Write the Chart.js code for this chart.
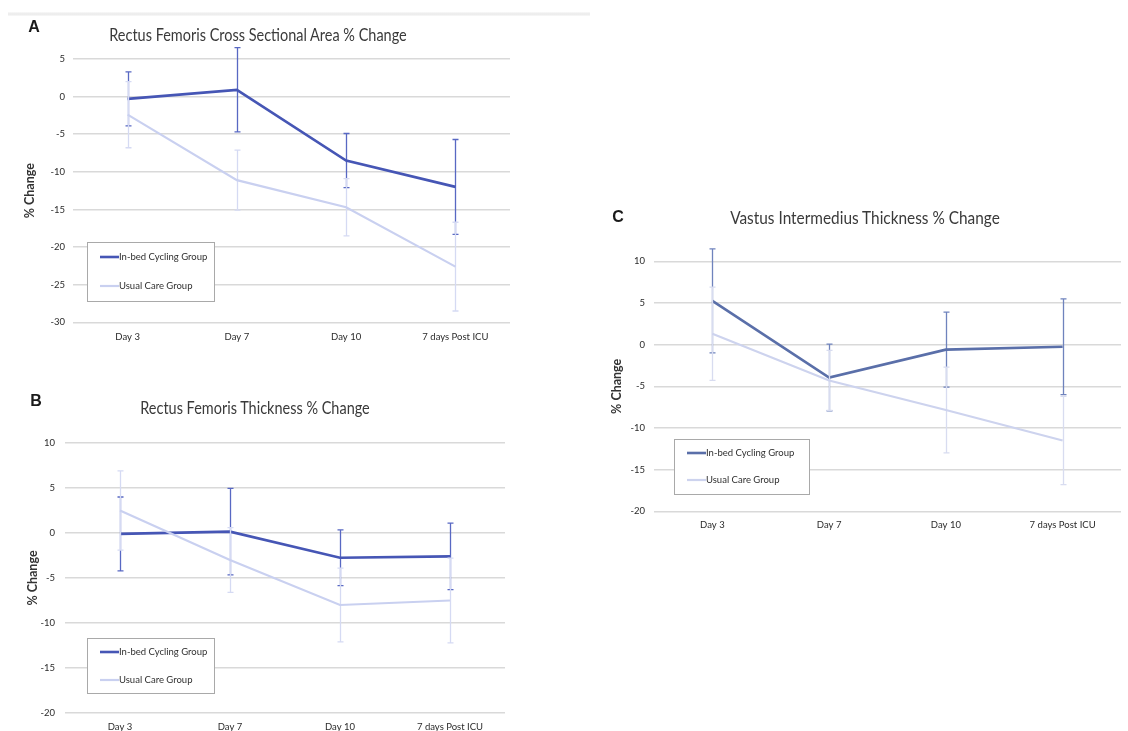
<!DOCTYPE html>
<html>
<head>
<meta charset="utf-8">
<script src="https://cdn.jsdelivr.net/npm/chart.js@4.4.1/dist/chart.umd.min.js"></script>
<style>
  html, body { margin: 0; padding: 0; background: #fff; }
  body { position: relative; width: 1128px; height: 731px; overflow: hidden; font-family: Lato, "Open Sans", sans-serif; }
  canvas { position: absolute; }
  .letter { position: absolute; font: bold 16px "Liberation Sans", Arial, sans-serif; color: #1a1a1a; transform: translate(-50%, -50%); }
  .title { position: absolute; white-space: nowrap; font: 17.5px Lato, sans-serif; color: #3a3a3a; }
  .rule { position: absolute; left: 8px; top: 12px; width: 582px; height: 4px; background: linear-gradient(#f9f9f9, #eaeaea, #f9f9f9); }
</style>
</head>
<body>
<div class="rule"></div>
<canvas id="chartA"></canvas>
<canvas id="chartB"></canvas>
<canvas id="chartC"></canvas>
<script>
// ---- data ----
const categories = ['Day 3', 'Day 7', 'Day 10', '7 days Post ICU'];
const seriesNames = ['In-bed Cycling Group', 'Usual Care Group'];

// A: rectus femoris cross sectional area, % change (mean and error)
const rfCsaCycling = [-0.3, 0.9, -8.5, -12.0];
const rfCsaCyclingErr = [3.6, 5.6, 3.6, 6.3];
const rfCsaUsual = [-2.4, -11.1, -14.7, -22.6];
const rfCsaUsualErr = [4.4, 4.0, 3.8, 5.9];

// B: rectus femoris thickness, % change
const rfThkCycling = [-0.1, 0.15, -2.75, -2.6];
const rfThkCyclingErr = [4.1, 4.8, 3.1, 3.7];
const rfThkUsual = [2.5, -3.0, -8.0, -7.5];
const rfThkUsualErr = [4.4, 3.6, 4.1, 4.7];

// C: vastus intermedius thickness, % change
const viThkCycling = [5.25, -3.95, -0.6, -0.25];
const viThkCyclingErr = [6.25, 4.0, 4.5, 5.75];
const viThkUsual = [1.3, -4.3, -7.85, -11.5];
const viThkUsualErr = [5.6, 3.6, 5.15, 5.3];

// y tick labels
const yTicksA = [5, 0, -5, -10, -15, -20, -25, -30];
const yTicksB = [10, 5, 0, -5, -10, -15, -20];
const yTicksC = [10, 5, 0, -5, -10, -15, -20];

const panelTitles = {
  A: 'Rectus Femoris Cross Sectional Area % Change',
  B: 'Rectus Femoris Thickness % Change',
  C: 'Vastus Intermedius Thickness % Change'
};
const yAxisTitle = '% Change';

// ---- layout (page pixels) ----
const panels = [
  {
    key: 'A', canvasId: 'chartA',
    canvas: { x: 0, y: 0, w: 590, h: 360 },
    plot: { l: 73, t: 59, r: 510, b: 322.3 },
    axisLeft: 18.8, yPad: 8, xPad: 9.3, xAxisH: 25,
    letter: { x: 34, y: 27 }, title: { cx: 258, cy: 34, w: 298 },
    legend: { x: 87, y: 242, w: 127, h: 59, row1: 15, row2: 44 },
    series: [rfCsaCycling, rfCsaUsual], errors: [rfCsaCyclingErr, rfCsaUsualErr], ticks: yTicksA,
    colors: { dark: '#4656b5', darkErr: '#5868c3', light: '#c9d0f0', lightErr: '#d5daf3' }
  },
  {
    key: 'B', canvasId: 'chartB',
    canvas: { x: 0, y: 370, w: 590, h: 380 },
    plot: { l: 65, t: 443, r: 505, b: 713 },
    axisLeft: 21.8, yPad: 10, xPad: 8.6, xAxisH: 25,
    letter: { x: 36, y: 401 }, title: { cx: 255, cy: 407, w: 230 },
    legend: { x: 87, y: 638, w: 127, h: 55, row1: 14, row2: 42 },
    series: [rfThkCycling, rfThkUsual], errors: [rfThkCyclingErr, rfThkUsualErr], ticks: yTicksB,
    colors: { dark: '#4656b5', darkErr: '#5868c3', light: '#c9d0f0', lightErr: '#d5daf3' }
  },
  {
    key: 'C', canvasId: 'chartC',
    canvas: { x: 590, y: 190, w: 538, h: 360 },
    plot: { l: 654, t: 261.3, r: 1121, b: 511.3 },
    axisLeft: 605.5, yPad: 9, xPad: 7.6, xAxisH: 25,
    letter: { x: 618, y: 217 }, title: { cx: 865, cy: 217, w: 270 },
    legend: { x: 674, y: 439, w: 135, h: 55, row1: 14, row2: 41 },
    series: [viThkCycling, viThkUsual], errors: [viThkCyclingErr, viThkUsualErr], ticks: yTicksC,
    colors: { dark: '#5a6fa9', darkErr: '#6f83bd', light: '#cdd3ee', lightErr: '#d8dcf0' }
  }
];

// vertical error bars with caps, drawn just before each series line
const errorBars = {
  id: 'errorBars',
  beforeDatasetDraw(chart, args) {
    const ds = chart.data.datasets[args.index];
    if (!ds.errors) return;
    const y = chart.scales.y;
    const ctx = chart.ctx;
    ctx.save();
    ctx.strokeStyle = ds.errorColor;
    ctx.lineWidth = 1.3;
    args.meta.data.forEach((pt, i) => {
      const v = ds.data[i], e = ds.errors[i];
      const yt = y.getPixelForValue(v + e);
      const yb = y.getPixelForValue(v - e);
      const x = Math.round(pt.x) + 0.5;
      ctx.beginPath();
      ctx.moveTo(x, yt); ctx.lineTo(x, yb);
      ctx.moveTo(x - 3, yt); ctx.lineTo(x + 3, yt);
      ctx.moveTo(x - 3, yb); ctx.lineTo(x + 3, yb);
      ctx.stroke();
    });
    ctx.restore();
  }
};

// boxed legend inside the plot area
const boxLegend = {
  id: 'boxLegend',
  afterDraw(chart, args, o) {
    if (!o || o.w === undefined) return;
    const ctx = chart.ctx;
    ctx.save();
    ctx.fillStyle = '#ffffff';
    ctx.fillRect(o.x, o.y, o.w, o.h);
    ctx.strokeStyle = '#a9a9a9';
    ctx.lineWidth = 1;
    ctx.strokeRect(Math.round(o.x) + 0.5, Math.round(o.y) + 0.5, o.w, o.h);
    const rows = [o.row1, o.row2];
    chart.data.datasets.forEach((ds, i) => {
      const yy = o.y + rows[i];
      ctx.strokeStyle = ds.borderColor;
      ctx.lineWidth = ds.borderWidth;
      ctx.beginPath();
      ctx.moveTo(o.x + 13, yy);
      ctx.lineTo(o.x + 32, yy);
      ctx.stroke();
      ctx.fillStyle = '#303030';
      ctx.font = '9.5px Lato, sans-serif';
      ctx.textBaseline = 'middle';
      ctx.textAlign = 'left';
      ctx.fillText(ds.label, o.x + 32, yy);
    });
    ctx.restore();
  }
};

function addText(cls, text, css) {
  const d = document.createElement('div');
  d.className = cls;
  d.textContent = text;
  Object.assign(d.style, css);
  document.body.appendChild(d);
  return d;
}

const measureCtx = document.createElement('canvas').getContext('2d');

panels.forEach(p => {
  // panel letter and title
  addText('letter', p.key, { left: p.letter.x + 'px', top: p.letter.y + 'px' });
  measureCtx.font = '17.5px Lato, sans-serif';
  const tw = measureCtx.measureText(panelTitles[p.key]).width;
  const k = p.title.w / tw;
  addText('title', panelTitles[p.key], {
    left: p.title.cx + 'px', top: p.title.cy + 'px',
    transform: 'translate(-50%, -50%) scaleX(' + k.toFixed(3) + ')'
  });

  const cv = document.getElementById(p.canvasId);
  cv.width = p.canvas.w; cv.height = p.canvas.h;
  cv.style.left = p.canvas.x + 'px'; cv.style.top = p.canvas.y + 'px';
  cv.style.width = p.canvas.w + 'px'; cv.style.height = p.canvas.h + 'px';

  const yW = p.plot.l - p.axisLeft;
  const padding = {
    left: p.axisLeft - p.canvas.x,
    top: p.plot.t - p.canvas.y,
    right: p.canvas.x + p.canvas.w - p.plot.r,
    bottom: p.canvas.y + p.canvas.h - p.plot.b - p.xAxisH
  };
  const tickVals = p.ticks;

  new Chart(cv, {
    type: 'line',
    data: {
      labels: categories,
      datasets: [
        {
          label: seriesNames[0], data: p.series[0], errors: p.errors[0],
          borderColor: p.colors.dark, errorColor: p.colors.darkErr, borderWidth: 2.6,
          pointRadius: 0, tension: 0, order: 2, clip: false
        },
        {
          label: seriesNames[1], data: p.series[1], errors: p.errors[1],
          borderColor: p.colors.light, errorColor: p.colors.lightErr, borderWidth: 2.2,
          pointRadius: 0, tension: 0, order: 1, clip: false
        }
      ]
    },
    options: {
      responsive: false,
      animation: false,
      devicePixelRatio: 1,
      layout: { padding },
      plugins: {
        legend: { display: false },
        tooltip: { enabled: false },
        title: { display: false },
        boxLegend: {
          x: p.legend.x - p.canvas.x, y: p.legend.y - p.canvas.y,
          w: p.legend.w, h: p.legend.h, row1: p.legend.row1, row2: p.legend.row2
        }
      },
      scales: {
        x: {
          offset: true,
          grid: { display: false, drawTicks: false },
          border: { display: false },
          ticks: {
            padding: p.xPad, maxRotation: 0, autoSkip: false,
            color: '#2b2b2b', font: { family: 'Lato', size: 9.5 }
          },
          afterFit: s => { s.height = p.xAxisH; }
        },
        y: {
          min: Math.min(...tickVals), max: Math.max(...tickVals),
          afterBuildTicks: s => { s.ticks = tickVals.slice().sort((a, b) => a - b).map(v => ({ value: v })); },
          grid: { color: '#d9d9d9', lineWidth: 1.5, drawTicks: false },
          border: { display: false },
          ticks: {
            padding: p.yPad, color: '#2b2b2b', font: { family: 'Lato', size: 9.5 }
          },
          title: {
            display: true, text: yAxisTitle, color: '#333333',
            font: { family: 'Lato', size: 12.5, weight: 'bold' }, padding: { top: 4, bottom: 4 }
          },
          afterFit: s => { s.width = yW; }
        }
      }
    },
    plugins: [errorBars, boxLegend]
  });
});
</script>
</body>
</html>
